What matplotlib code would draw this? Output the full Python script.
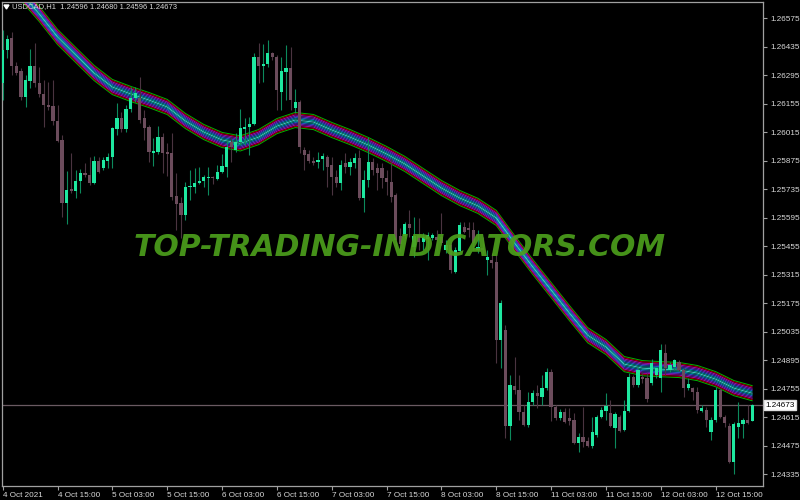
import matplotlib
matplotlib.use('Agg')
import matplotlib.pyplot as plt
from matplotlib import font_manager
from matplotlib.patches import Polygon
import matplotlib.transforms as mtransforms

# --- data (USDCAD H1, 4 Oct 03:00 .. 12 Oct 23:00) ---
opens = [
    1.26256, 1.26418, 1.26477, 1.26339, 1.26315, 1.26187, 1.26266, 1.26339, 1.26256, 1.26202,
    1.26148, 1.26143, 1.26069, 1.25976, 1.25666, 1.25735, 1.25725, 1.25774, 1.25814, 1.25804,
    1.25765, 1.25873, 1.25838, 1.25873, 1.25892, 1.26030, 1.26084, 1.26030, 1.26128, 1.26182,
    1.26182, 1.26084, 1.26040, 1.25912, 1.25917, 1.25991, 1.25917, 1.25912, 1.25701, 1.25666,
    1.25607, 1.25745, 1.25745, 1.25765, 1.25774, 1.25789, 1.25794, 1.25784, 1.25819, 1.25843,
    1.25966, 1.25927, 1.25966, 1.26030, 1.26040, 1.26054, 1.26383, 1.26339, 1.26349, 1.26403,
    1.26383, 1.26212, 1.26310, 1.26329, 1.26133, 1.26162, 1.25927, 1.25907, 1.25873, 1.25868,
    1.25882, 1.25892, 1.25853, 1.25794, 1.25765, 1.25863, 1.25843, 1.25863, 1.25887, 1.25691,
    1.25779, 1.25868, 1.25838, 1.25838, 1.25789, 1.25769, 1.25706, 1.25504, 1.25504, 1.25563,
    1.25450, 1.25509, 1.25475, 1.25489, 1.25494, 1.25499, 1.25499, 1.25435, 1.25460, 1.25327,
    1.25430, 1.25548, 1.25544, 1.25534, 1.25435, 1.25445, 1.25386, 1.25386, 1.25377, 1.24993,
    1.25042, 1.24571, 1.24767, 1.24748, 1.24640, 1.24575, 1.24689, 1.24733, 1.24713, 1.24758,
    1.24836, 1.24664, 1.24610, 1.24640, 1.24610, 1.24600, 1.24487, 1.24517, 1.24497, 1.24473,
    1.24527, 1.24615, 1.24645, 1.24635, 1.24561, 1.24615, 1.24551, 1.24645, 1.24812, 1.24772,
    1.24812, 1.24807, 1.24782, 1.24821, 1.24807, 1.24930, 1.24846, 1.24861, 1.24885, 1.24846,
    1.24758, 1.24758, 1.24738, 1.24645, 1.24650, 1.24541, 1.24600, 1.24748, 1.24615, 1.24571,
    1.24394, 1.24566, 1.24581, 1.24600, 1.24596,
]
highs = [
    1.26516, 1.26492, 1.26506, 1.26359, 1.26329, 1.26295, 1.26423, 1.26452, 1.26334, 1.26270,
    1.26261, 1.26270, 1.26148, 1.26000, 1.25823, 1.25912, 1.25828, 1.25833, 1.25863, 1.25892,
    1.25897, 1.25892, 1.25892, 1.25912, 1.26040, 1.26158, 1.26113, 1.26148, 1.26236, 1.26236,
    1.26285, 1.26123, 1.26049, 1.25986, 1.26045, 1.26010, 1.25961, 1.26010, 1.25814, 1.25696,
    1.25769, 1.25828, 1.25838, 1.25843, 1.25804, 1.25843, 1.25799, 1.25853, 1.25907, 1.25976,
    1.25991, 1.26010, 1.26128, 1.26084, 1.26089, 1.26403, 1.26452, 1.26447, 1.26467, 1.26408,
    1.26393, 1.26383, 1.26442, 1.26433, 1.26226, 1.26172, 1.25941, 1.25927, 1.25892, 1.25917,
    1.25912, 1.25902, 1.25892, 1.25828, 1.25878, 1.25912, 1.25887, 1.25912, 1.25927, 1.25828,
    1.25991, 1.25887, 1.25863, 1.25863, 1.25828, 1.25887, 1.25715, 1.25544, 1.25573, 1.25632,
    1.25598, 1.25593, 1.25519, 1.25524, 1.25519, 1.25534, 1.25617, 1.25485, 1.25475, 1.25450,
    1.25573, 1.25573, 1.25573, 1.25573, 1.25534, 1.25499, 1.25435, 1.25421, 1.25411, 1.25190,
    1.25067, 1.24821, 1.24910, 1.24821, 1.24674, 1.24738, 1.24748, 1.24772, 1.24821, 1.24856,
    1.24851, 1.24674, 1.24654, 1.24659, 1.24659, 1.24635, 1.24537, 1.24664, 1.24517, 1.24615,
    1.24625, 1.24664, 1.24733, 1.24699, 1.24640, 1.24625, 1.24699, 1.24831, 1.24821, 1.24861,
    1.24836, 1.24831, 1.24900, 1.24861, 1.24974, 1.24974, 1.24885, 1.24900, 1.24895, 1.24856,
    1.24807, 1.24763, 1.24763, 1.24674, 1.24664, 1.24615, 1.24763, 1.24758, 1.24625, 1.24586,
    1.24591, 1.24689, 1.24610, 1.24674, 1.24680,
]
lows = [
    1.26172, 1.26379, 1.26295, 1.26295, 1.26172, 1.26138, 1.26231, 1.26236, 1.26187, 1.26040,
    1.26123, 1.26049, 1.25966, 1.25598, 1.25563, 1.25715, 1.25691, 1.25715, 1.25794, 1.25755,
    1.25760, 1.25814, 1.25828, 1.25838, 1.25838, 1.26000, 1.26015, 1.26015, 1.26113, 1.26162,
    1.26059, 1.25976, 1.25868, 1.25848, 1.25907, 1.25814, 1.25799, 1.25681, 1.25534, 1.25494,
    1.25583, 1.25681, 1.25715, 1.25760, 1.25745, 1.25706, 1.25760, 1.25779, 1.25814, 1.25794,
    1.25868, 1.25917, 1.25951, 1.25951, 1.25902, 1.26049, 1.26256, 1.26261, 1.26334, 1.26369,
    1.26123, 1.26123, 1.26172, 1.26123, 1.26108, 1.25912, 1.25828, 1.25863, 1.25853, 1.25838,
    1.25828, 1.25745, 1.25706, 1.25745, 1.25730, 1.25814, 1.25804, 1.25838, 1.25681, 1.25622,
    1.25745, 1.25804, 1.25730, 1.25740, 1.25706, 1.25671, 1.25435, 1.25426, 1.25494, 1.25499,
    1.25401, 1.25435, 1.25435, 1.25386, 1.25485, 1.25435, 1.25460, 1.25421, 1.25322, 1.25322,
    1.25426, 1.25519, 1.25499, 1.25435, 1.25421, 1.25421, 1.25313, 1.25347, 1.24880, 1.24856,
    1.24512, 1.24502, 1.24728, 1.24600, 1.24571, 1.24566, 1.24674, 1.24659, 1.24674, 1.24748,
    1.24595, 1.24600, 1.24600, 1.24586, 1.24575, 1.24483, 1.24443, 1.24468, 1.24468, 1.24463,
    1.24517, 1.24610, 1.24600, 1.24566, 1.24463, 1.24541, 1.24546, 1.24640, 1.24763, 1.24763,
    1.24782, 1.24689, 1.24772, 1.24807, 1.24738, 1.24821, 1.24836, 1.24846, 1.24841, 1.24713,
    1.24748, 1.24699, 1.24635, 1.24640, 1.24566, 1.24502, 1.24591, 1.24610, 1.24566, 1.24389,
    1.24335, 1.24512, 1.24512, 1.24581, 1.24596,
]
closes = [
    1.26418, 1.26472, 1.26339, 1.26305, 1.26187, 1.26270, 1.26339, 1.26256, 1.26202, 1.26148,
    1.26138, 1.26069, 1.25971, 1.25666, 1.25730, 1.25725, 1.25774, 1.25814, 1.25804, 1.25765,
    1.25873, 1.25819, 1.25878, 1.25892, 1.26035, 1.26084, 1.26030, 1.26128, 1.26182, 1.26207,
    1.26074, 1.26035, 1.25917, 1.25922, 1.25991, 1.25912, 1.25907, 1.25696, 1.25661, 1.25607,
    1.25745, 1.25750, 1.25765, 1.25774, 1.25794, 1.25794, 1.25789, 1.25819, 1.25848, 1.25941,
    1.25941, 1.25966, 1.26035, 1.26040, 1.26054, 1.26383, 1.26339, 1.26349, 1.26403, 1.26383,
    1.26221, 1.26315, 1.26329, 1.26172, 1.26162, 1.25941, 1.25902, 1.25873, 1.25863, 1.25878,
    1.25897, 1.25843, 1.25794, 1.25765, 1.25853, 1.25843, 1.25868, 1.25887, 1.25691, 1.25779,
    1.25868, 1.25828, 1.25814, 1.25789, 1.25769, 1.25696, 1.25485, 1.25465, 1.25563, 1.25544,
    1.25504, 1.25475, 1.25499, 1.25509, 1.25509, 1.25485, 1.25470, 1.25460, 1.25337, 1.25435,
    1.25558, 1.25524, 1.25534, 1.25470, 1.25450, 1.25435, 1.25401, 1.25372, 1.24993, 1.25175,
    1.24571, 1.24772, 1.24748, 1.24640, 1.24575, 1.24689, 1.24733, 1.24718, 1.24758, 1.24836,
    1.24664, 1.24610, 1.24640, 1.24591, 1.24596, 1.24487, 1.24517, 1.24492, 1.24473, 1.24541,
    1.24615, 1.24650, 1.24669, 1.24571, 1.24630, 1.24546, 1.24645, 1.24812, 1.24772, 1.24846,
    1.24802, 1.24704, 1.24880, 1.24856, 1.24944, 1.24856, 1.24871, 1.24895, 1.24846, 1.24758,
    1.24777, 1.24738, 1.24650, 1.24659, 1.24600, 1.24600, 1.24748, 1.24615, 1.24586, 1.24394,
    1.24581, 1.24586, 1.24600, 1.24586, 1.24673,
]

# moving-average ribbon centre, read every 4th bar
ma_bars = list(range(4, 165, 4))
ma_values = [
    1.26698, 1.26595, 1.26482, 1.26393, 1.26305, 1.26236, 1.26202, 1.26172, 1.26138, 1.26069,
    1.26015, 1.25976, 1.25959, 1.25990, 1.26044, 1.26074, 1.26064, 1.26025, 1.25990, 1.25951,
    1.25907, 1.25858, 1.25799, 1.25740, 1.25691, 1.25652, 1.25593, 1.25470, 1.25352, 1.25239,
    1.25126, 1.25017, 1.24959, 1.24875, 1.24855, 1.24850, 1.24846, 1.24831, 1.24801, 1.24757,
    1.24732,
]

time_tick_bars = list(range(0, 157, 12))
time_tick_labels = ['4 Oct 2021', '4 Oct 15:00', '5 Oct 03:00', '5 Oct 15:00', '6 Oct 03:00',
                    '6 Oct 15:00', '7 Oct 03:00', '7 Oct 15:00', '8 Oct 03:00', '8 Oct 15:00',
                    '11 Oct 03:00', '11 Oct 15:00', '12 Oct 03:00', '12 Oct 15:00']
price_ticks = [1.26575, 1.26435, 1.26295, 1.26155, 1.26015, 1.25875, 1.25735, 1.25595, 1.25455,
               1.25315, 1.25175, 1.25035, 1.24895, 1.24755, 1.24615, 1.24475, 1.24335]
bid_price = 1.24673
title = 'USDCAD,H1  1.24596 1.24680 1.24596 1.24673'
watermark = 'TOP-TRADING-INDICATORS.COM'


def pick_font(names):
    for name in names:
        try:
            font_manager.findfont(name, fallback_to_default=False)
            return name
        except ValueError:
            pass
    return 'DejaVu Sans'


def main():
    ui_font = pick_font(['Liberation Sans Narrow', 'Liberation Sans', 'Arial', 'DejaVu Sans'])
    fg = '#d8d8d8'
    fs = 5.9

    fig = plt.figure(figsize=(8, 5), dpi=100, facecolor='black')
    ax = fig.add_axes([2 / 800, 14 / 500, 761 / 800, 484 / 500])
    ax.set_facecolor('black')

    # ribbon: envelopes around the centre line, outermost drawn first
    step = 0.000062
    ribbon_colors = ['#50e0e0', '#00a8a8', '#3060e0', '#7030d0', '#c000c0', '#b00000', '#00b400']
    for k in range(len(ribbon_colors) - 1, -1, -1):
        signs = (1, -1) if k else (1,)
        for sign in signs:
            ax.plot(ma_bars, [v + sign * k * step for v in ma_values],
                    color=ribbon_colors[k], lw=0.7 if k == 6 else 0.6, zorder=2)

    # candles
    bull_body, bull_wick = '#1ee8a0', '#0c8a5c'
    bear_body, bear_wick = '#6c4c5c', '#4a3440'
    for i in range(len(opens)):
        o, h, l, c = opens[i], highs[i], lows[i], closes[i]
        up = c >= o
        ax.vlines(i, l, h, color=bull_wick if up else bear_wick, lw=0.8, zorder=3)
        ax.bar(i, max(abs(c - o), 0.00002), bottom=min(o, c), width=0.7,
               color=bull_body if up else bear_body, lw=0, zorder=4)

    # bid line
    ax.axhline(bid_price, color='#6a5a62', lw=0.9, zorder=1)

    ax.set_xlim(-0.147, 166.37)
    ax.set_ylim(1.242762, 1.266536)

    for side in ('left', 'right', 'top', 'bottom'):
        ax.spines[side].set_color('#a0a0a0')
        ax.spines[side].set_linewidth(0.9)

    ax.yaxis.tick_right()
    ax.set_yticks(price_ticks)
    ax.set_yticklabels([f'{p:.5f}' for p in price_ticks])
    ax.tick_params(axis='y', length=3, width=0.8, color='#a0a0a0', pad=2,
                   labelcolor=fg, labelsize=fs)
    ax.set_xticks(time_tick_bars)
    ax.set_xticklabels(time_tick_labels)
    ax.tick_params(axis='x', length=3, width=0.8, color='#a0a0a0', pad=1,
                   labelcolor=fg, labelsize=fs)
    for lab in ax.get_xticklabels() + ax.get_yticklabels():
        lab.set_fontfamily(ui_font)
    for lab in ax.get_xticklabels():
        lab.set_horizontalalignment('left')

    # bid price box
    trans = mtransforms.blended_transform_factory(ax.transAxes, ax.transData)
    ax.text(1.003, bid_price, f'{bid_price:.5f}', transform=trans, ha='left', va='center',
            fontsize=fs, family=ui_font, color='black', clip_on=False,
            bbox=dict(boxstyle='square,pad=0.2', facecolor='white', edgecolor='#e0e0e0'))

    # title and small triangle
    fig.text(12 / 800, 1 - 7 / 500, title, ha='left', va='center', color=fg,
             fontsize=5.5, family=ui_font)
    fig.add_artist(Polygon([[4 / 800, 1 - 5 / 500], [9 / 800, 1 - 5 / 500],
                            [6.5 / 800, 1 - 9 / 500]], closed=True,
                           transform=fig.transFigure, color='white'))

    # watermark
    fig.text(400 / 800, 1 - 247 / 500, watermark, ha='center', va='center',
             color='#4c9e1c', fontsize=21.5, fontweight='bold', fontstyle='italic',
             family='DejaVu Sans', alpha=0.92, zorder=10)

    fig.savefig('out.png', dpi=100, facecolor='black')


if __name__ == '__main__':
    main()
